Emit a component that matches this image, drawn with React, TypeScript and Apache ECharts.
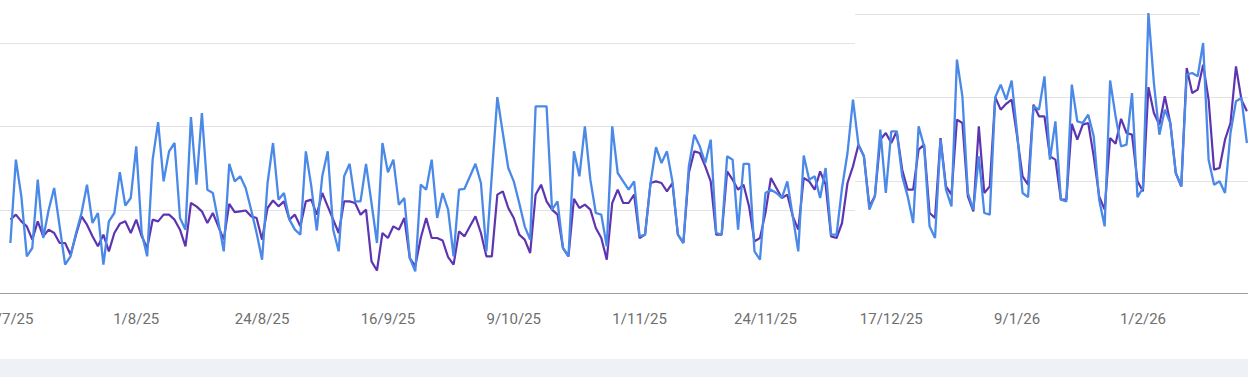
import React, { useEffect, useRef } from "react";
import * as echarts from "echarts";

// Daily series, 9 Jul 2025 -> 20 Feb 2026
const startYear = 2025;
const startMonth = 6; // July (0-based)
const startDay = 9;

const tickLabels = ["9/7/25", "1/8/25", "24/8/25", "16/9/25", "9/10/25", "1/11/25", "24/11/25", "17/12/25", "9/1/26", "1/2/26"];

// blue line
const clicks = [
  60, 160, 116, 44, 54, 136, 66, 100, 126, 80,
  34, 44, 72, 96, 130, 84, 96, 34, 86, 96,
  145, 105, 114, 176, 72, 44, 160, 205, 134, 170,
  180, 90, 76, 211, 130, 216, 124, 120, 86, 50,
  155, 134, 140, 126, 100, 72, 40, 132, 180, 112,
  120, 88, 76, 70, 170, 128, 75, 140, 170, 76,
  50, 140, 155, 110, 110, 155, 108, 60, 180, 145,
  160, 106, 114, 42, 26,
  130, 124, 160, 90, 120, 100, 44, 124, 125, 140,
  155, 132, 50, 142, 235, 192, 150, 134, 108, 80,
  64, 224, 224, 224, 100, 110, 54, 44, 170, 140,
  200, 136, 96, 94, 56, 200, 144, 134, 124, 134,
  68, 70, 132, 175, 156, 170, 134, 70, 60, 152,
  190, 176, 156, 184, 72, 70, 164, 160, 76, 155,
  155, 50, 40, 120, 124, 120, 114, 134, 92, 50,
  165, 136, 140, 114, 150, 70, 70,
  126, 168, 232, 178, 164, 100, 116, 196, 120, 194,
  194, 140, 116, 84, 200, 176, 80, 66, 184, 124,
  104, 280, 236, 120, 100, 164, 96, 94, 235, 250,
  232, 255, 192, 120, 115, 224, 220, 260, 160, 206,
  112, 110, 250, 206, 204, 214, 188, 112, 80, 255,
  212, 176, 178, 240, 115, 126, 336, 252, 190, 220,
  204, 144, 128, 262, 264, 260, 300, 160, 130, 134,
  120, 192, 230, 234, 180,
];

// purple line
const impressions = [
  88, 94, 86, 80, 64, 86, 68, 76, 72, 60,
  60, 46, 70, 92, 82, 68, 56, 70, 50, 72,
  83, 86, 72, 88, 68, 54, 88, 86, 94, 94,
  88, 76, 56, 108, 104, 98, 84, 96, 80, 64,
  107, 97, 98, 99, 92, 90, 64, 102, 111, 104,
  110, 88, 94, 80, 110, 112, 94, 120, 104, 88,
  72, 110, 110, 108, 94, 100, 38, 27, 72, 66,
  80, 76, 90, 42, 32,
  66, 90, 66, 66, 63, 43, 34, 74, 68, 80,
  92, 72, 44, 44, 118, 122, 102, 90, 70, 64,
  48, 118, 130, 110, 100, 94, 54, 44, 113, 102,
  106, 100, 78, 66, 40, 108, 124, 108, 108, 118,
  66, 70, 132, 134, 132, 122, 132, 70, 60, 144,
  170, 168, 152, 134, 70, 70, 146, 136, 124, 130,
  104, 62, 66, 96, 138, 126, 114, 118, 92, 76,
  138, 134, 124, 146, 130, 68, 66,
  84, 132, 152, 178, 164, 104, 116, 184, 192, 180,
  194, 148, 124, 124, 172, 178, 96, 90, 186, 128,
  118, 208, 204, 116, 98, 200, 120, 128, 235, 220,
  227, 232, 188, 140, 130, 226, 212, 212, 164, 160,
  112, 112, 203, 184, 202, 204, 164, 116, 100, 186,
  179, 209, 192, 190, 134, 122, 247, 216, 202, 236,
  204, 144, 128, 270, 240, 244, 274, 232, 148, 150,
  184, 204, 272, 232, 218,
];

const dates = clicks.map((_, i) => {
  const d = new Date(Date.UTC(startYear, startMonth, startDay + i));
  return `${d.getUTCDate()}/${d.getUTCMonth() + 1}/${String(d.getUTCFullYear()).slice(2)}`;
});

const GRID_COLOR = "#e3e3e3";

const hiddenX = (gridIndex: number) => ({ gridIndex, type: "value", min: 0, max: 1, show: false });
const gridY = (gridIndex: number, max: number) => ({
  gridIndex,
  type: "value",
  min: 0,
  max,
  interval: 1,
  axisLine: { show: false },
  axisTick: { show: false },
  axisLabel: { show: false },
  splitLine: { show: true, lineStyle: { color: GRID_COLOR, width: 1 } },
});

export default function App() {
  const ref = useRef<HTMLDivElement>(null);

  useEffect(() => {
    if (!ref.current) return;
    const chart = echarts.init(ref.current, undefined, { renderer: "svg" });
    const tickValues = tickLabels.map((l) => dates.indexOf(l));
    const option: any = {
      animation: false,
      backgroundColor: "#ffffff",
      grid: [
        { left: 0, right: 0, top: 0, height: 293, outerBoundsMode: "none" },
        { left: 0, width: 855, top: 43, height: 167, outerBoundsMode: "none" },
        { left: 855, right: 0, top: 97, height: 84, outerBoundsMode: "none" },
        { left: 855, width: 345, top: 14, height: 83, outerBoundsMode: "none" },
      ],
      xAxis: [
        {
          gridIndex: 0,
          type: "value",
          min: -1.9,
          max: 226.2,
          axisLine: { show: true, lineStyle: { color: "#9e9e9e", width: 1 } },
          axisTick: { show: false },
          splitLine: { show: false },
          axisLabel: {
            customValues: tickValues,
            formatter: (v: number) => dates[Math.round(v)] ?? "",
            color: "#6f6f6f",
            fontFamily: "Roboto",
            fontSize: 15,
            margin: 18,
          },
        },
        hiddenX(1),
        hiddenX(2),
        hiddenX(3),
      ],
      yAxis: [
        { gridIndex: 0, type: "value", min: 0, max: 351.6, show: false },
        gridY(1, 2),
        gridY(2, 1),
        gridY(3, 1),
      ],
      series: [
        {
          name: "Impressions",
          type: "line",
          xAxisIndex: 0,
          yAxisIndex: 0,
          data: impressions.map((v, i) => [i, v]),
          symbol: "none",
          lineStyle: { color: "#5e35b1", width: 2.2 },
          itemStyle: { color: "#5e35b1" },
          z: 2,
        },
        {
          name: "Clicks",
          type: "line",
          xAxisIndex: 0,
          yAxisIndex: 0,
          data: clicks.map((v, i) => [i, v]),
          symbol: "none",
          lineStyle: { color: "#4a89e8", width: 2.3 },
          itemStyle: { color: "#4a89e8" },
          z: 3,
        },
      ],
      graphic: [
        {
          type: "rect",
          shape: { x: 0, y: 359, width: 1248, height: 18 },
          style: { fill: "#eef2f7" },
          silent: true,
        },
      ],
    };
    chart.setOption(option);
    return () => chart.dispose();
  }, []);

  return (
    <div
      ref={ref}
      style={{ position: "absolute", left: 0, top: 0, width: 1248, height: 377, background: "#fff" }}
    />
  );
}
